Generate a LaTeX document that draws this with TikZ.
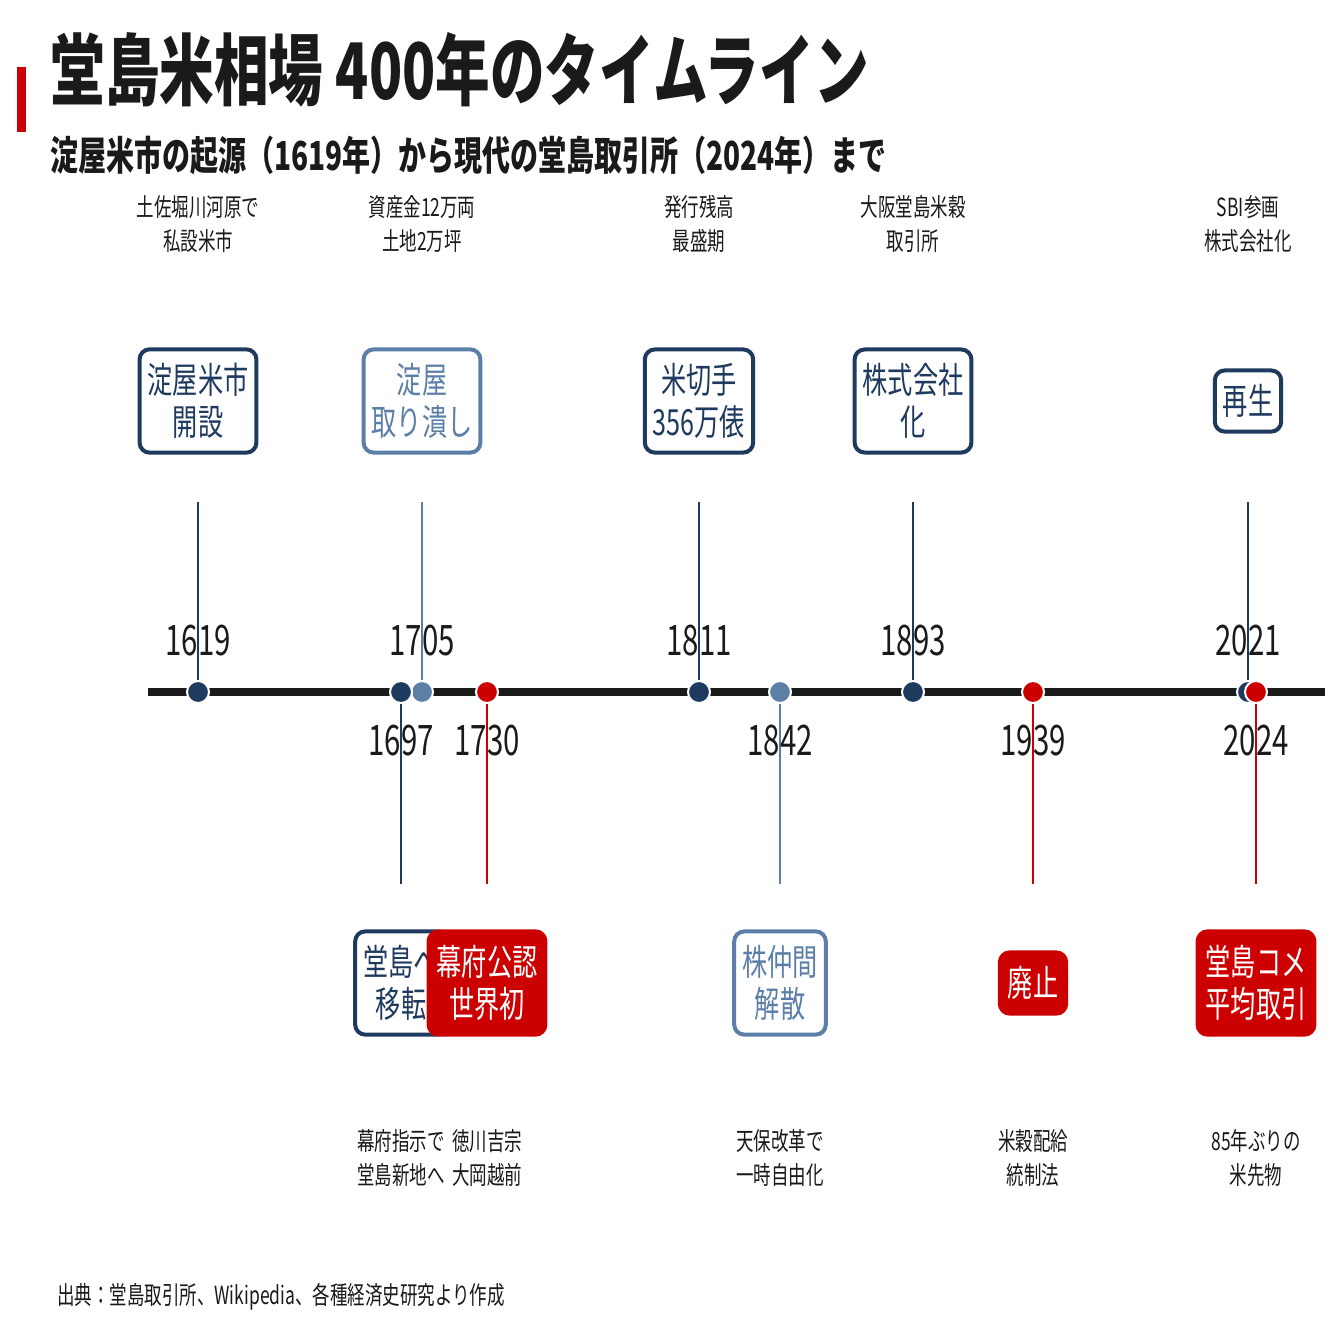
\documentclass[tikz,border=0pt]{standalone}
\usepackage{fontspec}
\setmainfont{Noto Sans CJK JP}[FakeStretch=0.7]
\definecolor{navy}{HTML}{1F3A5F}
\definecolor{steel}{HTML}{5B7FA6}
\definecolor{accent}{HTML}{CC0000}
\definecolor{ink}{HTML}{1A1A1A}
\tikzset{
  evbox/.style={draw=#1, fill=white, text=#1, line width=2pt, rounded corners=5pt,
    align=center, inner xsep=4pt, inner ysep=7pt, font=\fontsize{18}{21}\selectfont},
  redbox/.style={draw=accent, fill=accent, text=white, line width=2pt, rounded corners=5pt,
    align=center, inner xsep=4pt, inner ysep=7pt, font=\fontsize{18}{21}\selectfont},
  yearlbl/.style={text=ink, font=\fontsize{21}{22}\selectfont},
  notelbl/.style={text=ink, align=center, font=\fontsize{12.5}{17}\selectfont},
  dot/.style={circle, fill=#1, draw=white, line width=1pt, minimum size=11pt, inner sep=0pt},
}
\begin{document}
\begin{tikzpicture}[x=0.5pt, y=-0.5pt]
  \useasboundingbox[fill=white] (0,0) rectangle (1343,1343);
  % title block
  \fill[accent] (17,67) rectangle (26,132);
  \node[anchor=base west, inner sep=0pt, text=ink, font=\fontsize{39}{40}\selectfont\bfseries] (title) at (50,100) {堂島米相場 400年のタイムライン};
  \node[anchor=base west, inner sep=0pt, text=ink, font=\fontsize{20}{22}\selectfont\bfseries] (subtitle) at (50,170) {淀屋米市の起源（1619年）から現代の堂島取引所（2024年）まで};
  % axis
  \draw[ink, line width=4pt] (148,692) -- (1325,692);
  % events above the axis
  \foreach \x/\yr/\c/\btext/\note [count=\n] in {
    198/1619/navy/{淀屋米市\\開設}/{土佐堀川河原で\\私設米市},
    422/1705/steel/{淀屋\\取り潰し}/{資産金12万両\\土地2万坪},
    699/1811/navy/{米切手\\356万俵}/{発行残高\\最盛期},
    913/1893/navy/{株式会社\\化}/{大阪堂島米穀\\取引所},
    1248/2021/navy/{再生}/{SBI参画\\株式会社化}} {
    \coordinate (up\n) at (\x,502);
    \node[dot=\c] (updot\n) at (\x,692) {};
    \draw[\c, line width=1.2pt] (up\n) -- (updot\n.north);
    \node[yearlbl] (upyr\n) at (\x,641) {\yr};
    \node[evbox=\c] (upbox\n) at (\x,401) {\btext};
    \node[notelbl] (upnote\n) at (\x,224) {\note};
  }
  % events below the axis
  \foreach \x/\yr/\c/\note [count=\n] in {
    401/1697/navy/{幕府指示で\\堂島新地へ},
    487/1730/accent/{徳川吉宗\\大岡越前},
    780/1842/steel/{天保改革で\\一時自由化},
    1033/1939/accent/{米穀配給\\統制法},
    1256/2024/accent/{85年ぶりの\\米先物}} {
    \coordinate (dn\n) at (\x,884);
    \node[dot=\c] (dndot\n) at (\x,692) {};
    \draw[\c, line width=1.2pt] (dndot\n.south) -- (dn\n);
    \node[yearlbl] (dnyr\n) at (\x,741) {\yr};
    \node[notelbl] (dnnote\n) at (\x,1158) {\note};
  }
  % boxes below
  \node[evbox=navy] (dnbox1) at (401,983) {堂島へ\\移転};
  \node[redbox] (dnbox2) at (487,983) {幕府公認\\世界初};
  \node[evbox=steel] (dnbox3) at (780,983) {株仲間\\解散};
  \node[redbox] (dnbox4) at (1033,983) {廃止};
  \node[redbox] (dnbox5) at (1256,983) {堂島コメ\\平均取引};
  % source
  \node[anchor=west, text=ink, font=\fontsize{12.5}{14}\selectfont] (source) at (50,1297) {出典：堂島取引所、Wikipedia、各種経済史研究より作成};
\end{tikzpicture}
\end{document}
